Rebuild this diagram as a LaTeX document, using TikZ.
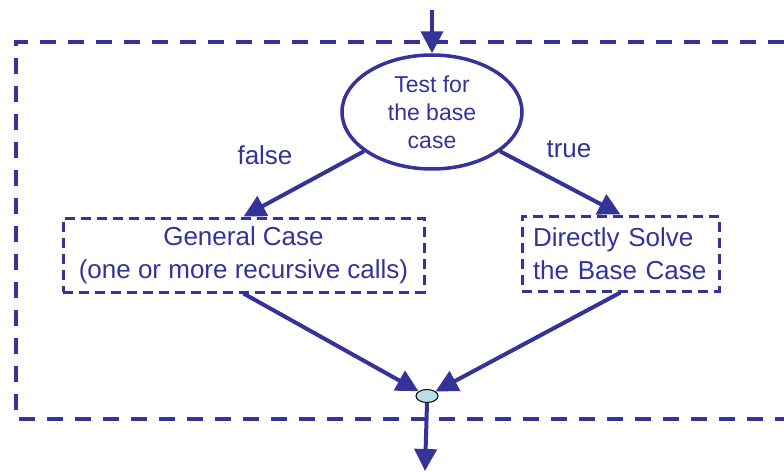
\documentclass[tikz,border=0pt]{standalone}
\usepackage{fontspec}
\setmainfont{Liberation Sans}
\usetikzlibrary{arrows.meta,shapes.geometric}
\definecolor{fc}{HTML}{333399}
\definecolor{jc}{HTML}{B8E0E0}
\begin{document}
\begin{tikzpicture}[x=1pt,y=-1pt,
  conn/.style={draw=fc,line width=4pt,-{Triangle[length=22pt,width=22pt]}},
  outerbox/.style={draw=fc,line width=4pt,dash pattern=on 16pt off 12pt},
  casebox/.style={draw=fc,text=fc,line width=3pt,dash pattern=on 10pt off 6pt,rectangle,inner sep=0pt,font=\fontsize{26}{33}\selectfont},
  testnode/.style={ellipse,draw=fc,text=fc,line width=3.5pt,inner sep=0pt,minimum width=180pt,minimum height=114pt,align=center,font=\fontsize{23}{28}\selectfont},
  lbl/.style={text=fc,anchor=base,inner sep=0pt,font=\fontsize{26}{30}\selectfont},
  junction/.style={ellipse,draw=black,line width=1pt,fill=jc,minimum width=22pt,minimum height=13pt,inner sep=0pt}
]
\useasboundingbox (0,0) rectangle (784,471);
\draw[outerbox] (784,42) -- (16,42) -- (16,419) -- (784,419);

\node[testnode] (test) at (432,112) {Test for\\the base\\case};
\node[casebox,align=center,minimum width=361pt,minimum height=74pt] (gen) at (243.5,255) {General Case\\(one or more recursive calls)};
\node[casebox,align=left,inner xsep=11pt,text width=175pt,minimum height=75pt] (dir) at (620.5,253.5) {Directly Solve\\the Base Case};
\node[junction] (j) at (427,396) {};

\node[lbl] (lf) at (265,164) {false};
\node[lbl] (lt) at (569,157) {true};

\coordinate (in) at (432,10);
\coordinate (out) at (425,471);

\draw[conn] (in) -- (test.north);
\draw[conn] (test.210) -- (gen.north);
\draw[conn] (test.330) -- (dir.north);
\draw[conn] (gen.south) -- (j);
\draw[conn] (dir.south) -- (j);
\draw[conn] (j.south) -- (out);
\end{tikzpicture}
\end{document}
